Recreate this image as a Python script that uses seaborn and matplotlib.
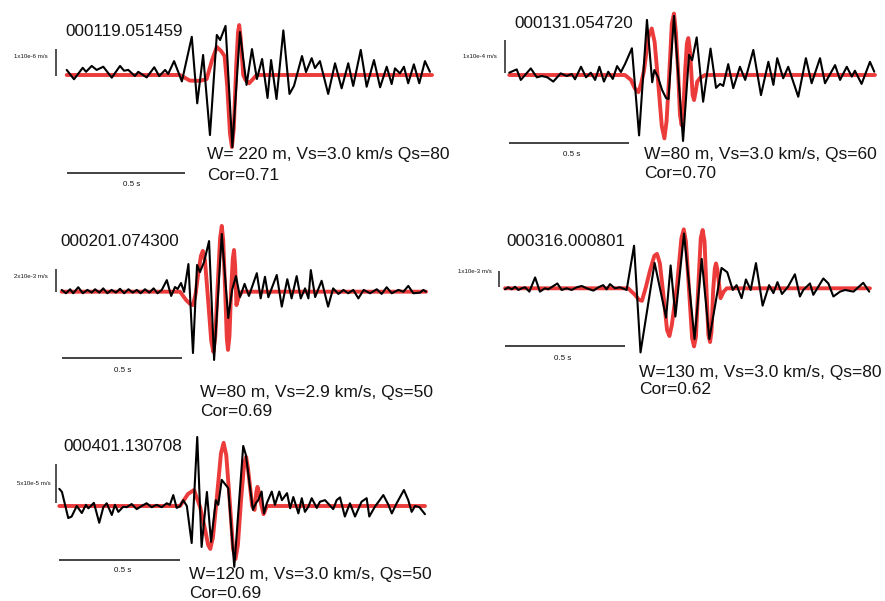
import matplotlib
matplotlib.use("Agg")
import matplotlib.pyplot as plt
import numpy as np
import pandas as pd
import seaborn as sns

# ---------------- data (time in s, amplitude in units of each panel's scale bar) -------------
event_ids = ["000119.051459", "000131.054720", "000201.074300", "000316.000801", "000401.130708"]
fit_params = ["W= 220 m, Vs=3.0 km/s Qs=80", "W=80 m, Vs=3.0 km/s, Qs=60",
              "W=80 m, Vs=2.9 km/s, Qs=50", "W=130 m, Vs=3.0 km/s, Qs=80",
              "W=120 m, Vs=3.0 km/s, Qs=50"]
correlations = ["Cor=0.71", "Cor=0.70", "Cor=0.69", "Cor=0.62", "Cor=0.69"]
amp_scale_labels = ["1x10e-6 m/s", "1x10e-4 m/s", "2x10e-3 m/s", "1x10e-3 m/s", "5x10e-5 m/s"]
time_scale_label = "0.5 s"
time_scale_len = 0.5

obs_1 = [(0.000, 0.19), (0.031, -0.16), (0.068, 0.27), (0.082, 0.12), (0.106, 0.34), (0.127, 0.19),
         (0.155, 0.31), (0.191, -0.10), (0.226, 0.34), (0.243, 0.16), (0.261, 0.19), (0.289, -0.04),
         (0.303, 0.12), (0.339, -0.09), (0.371, 0.29), (0.392, -0.04), (0.417, 0.19), (0.430, 0.04),
         (0.455, 0.52), (0.488, -0.24), (0.530, 1.43), (0.553, -1.06), (0.578, 0.75), (0.607, -2.25),
         (0.636, 1.50), (0.650, 1.31), (0.673, 1.84), (0.702, -2.70), (0.734, 1.61), (0.762, -0.37),
         (0.785, 0.97), (0.806, -0.15), (0.828, 0.60), (0.851, -0.86), (0.866, 0.56), (0.889, -0.90),
         (0.918, 1.67), (0.944, -0.71), (0.963, -0.41), (0.997, 0.71), (1.014, 0.11), (1.038, 0.63),
         (1.052, 0.26), (1.073, 0.52), (1.108, -0.71), (1.137, 0.44), (1.165, -0.50), (1.193, 0.44),
         (1.214, -0.41), (1.246, 0.94), (1.271, -0.44), (1.302, 0.56), (1.328, -0.46), (1.356, 0.31),
         (1.377, -0.34), (1.391, 0.25), (1.412, 0.06), (1.429, 0.31), (1.447, -0.31), (1.471, 0.40),
         (1.494, -0.31), (1.518, 0.52), (1.539, 0.12)]
syn_1 = [(0.000, 0.0), (0.480, 0.0), (0.522, -0.21), (0.565, -0.22), (0.593, -0.15), (0.616, 0.56),
         (0.636, 1.05), (0.654, 0.90), (0.669, 0.71), (0.680, -0.40), (0.692, -2.20), (0.700, -2.70),
         (0.708, -2.00), (0.718, 0.30), (0.726, 1.60), (0.731, 1.87), (0.737, 1.40), (0.748, 0.00),
         (0.758, -0.19), (0.773, -0.31), (0.805, 0.0), (1.548, 0.0)]

obs_2 = [(0.000, 0.07), (0.031, 0.17), (0.048, -0.15), (0.090, 0.20), (0.115, -0.07), (0.136, -0.03),
         (0.159, -0.07), (0.184, -0.20), (0.215, 0.05), (0.240, -0.03), (0.261, 0.03), (0.275, -0.13),
         (0.300, 0.25), (0.321, -0.07), (0.341, 0.07), (0.359, -0.15), (0.377, 0.25), (0.396, -0.20),
         (0.414, 0.10), (0.433, -0.12), (0.451, 0.27), (0.467, 0.09), (0.484, 0.33), (0.513, 0.81),
         (0.543, -1.83), (0.576, 1.67), (0.598, -0.22), (0.607, 0.15), (0.622, -0.06), (0.639, -0.45),
         (0.656, -0.70), (0.666, -0.73), (0.689, 1.79), (0.727, -2.00), (0.752, 0.61), (0.765, 0.45),
         (0.784, 1.14), (0.811, -0.81), (0.842, 0.80), (0.865, -0.39), (0.882, -0.27), (0.895, -0.33),
         (0.916, 0.33), (0.937, -0.40), (0.965, 0.25), (0.987, -0.15), (1.021, 0.76), (1.053, -0.61),
         (1.084, 0.40), (1.105, -0.30), (1.121, 0.51), (1.146, -0.10), (1.167, 0.25), (1.209, -0.66),
         (1.241, 0.51), (1.265, -0.25), (1.300, 0.51), (1.321, -0.25), (1.363, 0.30), (1.384, -0.15),
         (1.412, 0.25), (1.433, -0.05), (1.446, 0.13), (1.474, -0.27), (1.509, 0.40), (1.527, 0.10)]
syn_2 = [(0.000, 0.0), (0.484, 0.0), (0.509, -0.15), (0.525, -0.40), (0.540, -0.52), (0.552, -0.25),
         (0.564, 0.15), (0.582, 1.15), (0.596, 1.41), (0.608, 1.00), (0.622, -0.15), (0.638, -1.55),
         (0.649, -1.92), (0.658, -1.40), (0.668, -0.15), (0.680, 1.55), (0.689, 1.86), (0.697, 1.30),
         (0.706, 0.15), (0.714, -1.20), (0.721, -1.52), (0.728, -1.10), (0.736, 0.15), (0.743, 0.95),
         (0.749, 1.12), (0.755, 0.80), (0.761, 0.15), (0.767, -0.60), (0.773, -0.76), (0.780, -0.50),
         (0.786, -0.21), (0.798, -0.09), (0.819, 0.0), (1.530, 0.0)]

obs_3 = [(0.000, 0.08), (0.018, -0.07), (0.035, 0.11), (0.048, -0.07), (0.069, 0.20), (0.088, -0.07),
         (0.107, 0.08), (0.125, -0.04), (0.139, 0.11), (0.157, -0.04), (0.173, 0.15), (0.190, -0.07),
         (0.208, 0.08), (0.226, -0.04), (0.243, 0.13), (0.260, -0.07), (0.278, 0.11), (0.296, -0.04),
         (0.313, 0.08), (0.329, -0.07), (0.347, 0.11), (0.365, -0.04), (0.383, 0.15), (0.399, -0.07),
         (0.417, 0.08), (0.438, 0.52), (0.456, -0.19), (0.472, 0.21), (0.483, 0.12), (0.497, 0.39),
         (0.510, -0.01), (0.528, 1.24), (0.547, -2.75), (0.564, 1.20), (0.576, 0.88), (0.593, 1.33),
         (0.614, 2.27), (0.635, -3.06), (0.667, 2.59), (0.694, -1.18), (0.710, 0.08), (0.726, 0.70),
         (0.743, -0.24), (0.762, 0.35), (0.780, -0.19), (0.813, 0.83), (0.829, -0.30), (0.847, 0.67),
         (0.861, -0.25), (0.896, 0.75), (0.917, -0.67), (0.940, 0.56), (0.958, -0.30), (0.979, 0.70),
         (0.996, -0.30), (1.014, 0.15), (1.028, -0.30), (1.038, 0.97), (1.056, -0.24), (1.083, 0.49),
         (1.110, -0.67), (1.131, 0.15), (1.153, -0.10), (1.174, 0.08), (1.194, -0.07), (1.215, 0.08),
         (1.236, -0.30), (1.258, 0.08), (1.285, -0.07), (1.313, 0.11), (1.333, -0.10), (1.354, 0.20),
         (1.375, -0.07), (1.403, 0.08), (1.424, 0.00), (1.444, 0.26), (1.465, -0.07), (1.493, -0.04),
         (1.507, 0.08), (1.518, 0.00)]
syn_3 = [(0.000, 0.0), (0.493, 0.0), (0.518, -0.37), (0.535, -0.55), (0.547, -0.60), (0.558, -0.10),
         (0.568, 0.74), (0.580, 1.60), (0.588, 1.83), (0.597, 1.40), (0.610, -0.37), (0.623, -2.20),
         (0.632, -2.70), (0.640, -2.00), (0.649, 0.08), (0.660, 2.40), (0.667, 2.95), (0.673, 2.30),
         (0.681, 0.08), (0.688, -2.10), (0.693, -2.61), (0.699, -2.00), (0.706, 0.08), (0.713, 1.50),
         (0.718, 1.87), (0.723, 1.10), (0.728, -0.60), (0.739, -0.19), (0.751, 0.0), (1.518, 0.0)]

obs_4 = [(0.000, -0.06), (0.014, 0.06), (0.028, -0.06), (0.042, 0.09), (0.056, -0.10), (0.070, 0.00),
         (0.084, 0.06), (0.102, -0.20), (0.126, 0.65), (0.146, -0.20), (0.167, 0.00), (0.181, -0.06),
         (0.219, 0.29), (0.237, -0.10), (0.258, 0.00), (0.279, -0.10), (0.300, 0.06), (0.321, 0.14),
         (0.342, 0.00), (0.370, -0.14), (0.391, 0.06), (0.411, 0.19), (0.425, -0.06), (0.439, 0.25),
         (0.460, 0.00), (0.481, 0.06), (0.509, -0.10), (0.540, 2.55), (0.567, -3.84), (0.626, 1.52),
         (0.674, -1.75), (0.693, 1.37), (0.713, -1.69), (0.749, 3.28), (0.793, -3.04), (0.823, 1.76),
         (0.855, -3.04), (0.906, 1.22), (0.930, 0.96), (0.953, -0.10), (0.969, 0.19), (0.990, -0.59),
         (1.008, 0.53), (1.028, -0.10), (1.050, 1.51), (1.078, -1.04), (1.105, 0.19), (1.123, -0.29),
         (1.140, 0.37), (1.159, -0.34), (1.184, 0.09), (1.213, 0.84), (1.234, -0.49), (1.248, -0.10),
         (1.276, 0.29), (1.290, -0.39), (1.332, 0.59), (1.353, 0.29), (1.374, -0.49), (1.402, -0.20),
         (1.423, -0.10), (1.458, -0.20), (1.499, 0.33), (1.524, -0.20)]
syn_4 = [(0.000, 0.0), (0.515, 0.0), (0.544, -0.39), (0.560, -0.68), (0.573, -0.75), (0.590, 0.10),
         (0.607, 1.08), (0.625, 1.95), (0.636, 2.06), (0.648, 1.50), (0.665, -0.69), (0.678, -2.50),
         (0.688, -2.86), (0.698, -2.20), (0.720, 0.19), (0.738, 3.00), (0.748, 3.53), (0.757, 2.80),
         (0.770, -0.10), (0.783, -3.00), (0.791, -3.48), (0.799, -2.90), (0.808, -0.10), (0.819, 3.00),
         (0.827, 3.49), (0.835, 2.80), (0.843, -0.10), (0.851, -2.80), (0.858, -3.22), (0.864, -2.60),
         (0.871, -0.10), (0.878, 1.20), (0.883, 1.49), (0.889, 1.10), (0.902, -0.59), (0.915, -0.20),
         (0.928, 0.0), (1.527, 0.0)]

obs_5 = [(0.000, 0.44), (0.011, 0.36), (0.037, -0.31), (0.051, -0.27), (0.072, 0.00), (0.093, -0.18),
         (0.110, 0.03), (0.120, -0.06), (0.143, 0.08), (0.165, -0.43), (0.182, -0.03), (0.196, 0.07),
         (0.217, -0.23), (0.230, 0.03), (0.244, -0.15), (0.264, -0.02), (0.279, -0.03), (0.299, 0.05),
         (0.320, -0.08), (0.340, 0.00), (0.361, 0.07), (0.382, -0.03), (0.402, 0.03), (0.423, -0.03),
         (0.444, 0.07), (0.457, 0.03), (0.471, 0.28), (0.485, -0.05), (0.499, 0.00), (0.512, 0.15),
         (0.527, 0.00), (0.547, -0.95), (0.570, 1.77), (0.588, -1.05), (0.610, 0.36), (0.627, -0.92),
         (0.647, 0.15), (0.657, 0.03), (0.671, 0.67), (0.698, 0.46), (0.723, -1.56), (0.760, 1.54),
         (0.771, 1.31), (0.800, -0.10), (0.813, 0.08), (0.822, 0.15), (0.836, 0.37), (0.846, -0.19),
         (0.858, 0.08), (0.878, 0.37), (0.891, 0.03), (0.909, 0.37), (0.920, 0.15), (0.941, 0.33),
         (0.954, -0.06), (0.967, 0.23), (0.988, -0.19), (1.002, 0.20), (1.015, -0.15), (1.029, -0.02),
         (1.043, 0.20), (1.064, -0.05), (1.077, 0.11), (1.098, 0.15), (1.132, -0.08), (1.146, 0.15),
         (1.160, 0.22), (1.180, -0.27), (1.201, 0.07), (1.222, -0.27), (1.249, 0.11), (1.270, 0.20),
         (1.281, -0.27), (1.304, -0.02), (1.339, 0.28), (1.360, 0.03), (1.374, -0.19), (1.394, 0.07),
         (1.424, 0.41), (1.442, 0.15), (1.456, -0.15), (1.470, 0.00), (1.488, -0.03), (1.497, -0.10),
         (1.511, -0.21)]
syn_5 = [(0.000, 0.0), (0.499, 0.0), (0.532, 0.31), (0.557, 0.41), (0.582, -0.03), (0.603, -0.62),
         (0.615, -1.00), (0.624, -1.10), (0.635, -0.80), (0.650, 0.15), (0.668, 1.35), (0.679, 1.62),
         (0.690, 1.30), (0.704, 0.15), (0.718, -1.10), (0.728, -1.36), (0.738, -1.00), (0.751, 0.15),
         (0.764, 1.10), (0.772, 1.26), (0.780, 0.95), (0.797, 0.0), (0.807, -0.10), (0.814, 0.35),
         (0.819, 0.49), (0.825, 0.35), (0.834, 0.05), (0.844, -0.21), (0.858, 0.0), (1.511, 0.0)]

observed = [obs_1, obs_2, obs_3, obs_4, obs_5]
synthetic = [syn_1, syn_2, syn_3, syn_4, syn_5]

# ---------------- layout (figure pixels) ----------------
W, H = 885, 601
layout = [
    dict(box=(0, 0, 442, 200), x0=66.7, pps=236, base=75.0, h=26.7,
         title=(65, 32), par=(207, 155), cor=(207, 175), tlab=(131.7, 185), alab=(31, 57),
         hbar_y=172.7, vbar_x=56, vbar_bot=76.0),
    dict(box=(442, 0, 443, 200), x0=509.3, pps=239, base=75.0, h=33.0,
         title=(514, 23), par=(644, 154), cor=(644, 173.3), tlab=(571.7, 155), alab=(480, 56.7),
         hbar_y=143.3, vbar_x=505, vbar_bot=73.3),
    dict(box=(0, 200, 442, 220), x0=61.7, pps=240, base=291.7, h=22.3,
         title=(60.7, 241.7), par=(200, 392.7), cor=(200, 411.7), tlab=(122.7, 370.7), alab=(31, 276),
         hbar_y=358.3, vbar_x=56, vbar_bot=291.7),
    dict(box=(442, 200, 443, 220), x0=505.0, pps=239, base=288.3, h=16.7,
         title=(506, 241.7), par=(639.3, 372.3), cor=(639.3, 390), tlab=(562.7, 358.3), alab=(474.5, 271.7),
         hbar_y=345.7, vbar_x=499, vbar_bot=287.3),
    dict(box=(0, 420, 442, 181), x0=59.3, pps=242, base=506.0, h=39.0,
         title=(63.3, 446.7), par=(189.3, 575), cor=(189.3, 593.5), tlab=(122.7, 570), alab=(34, 483.3),
         hbar_y=560.0, vbar_x=56, vbar_bot=502.7),
]

sns.set_theme(style="white")
plt.rcParams["font.family"] = ["Liberation Sans", "DejaVu Sans"]

fig = plt.figure(figsize=(W / 100, H / 100), dpi=100)
fig.patch.set_facecolor("white")

RED = "#ec3b3b"
TXT = "#141414"


def fx(x):
    return x / W


def fy(y):
    return 1 - y / H


for i, L in enumerate(layout):
    bx, by, bw, bh = L["box"]
    ax = fig.add_axes([bx / W, 1 - (by + bh) / H, bw / W, bh / H])
    ax.set_axis_off()
    ax.patch.set_alpha(0)
    tx = lambda xp, L=L: (xp - L["x0"]) / L["pps"]
    ay = lambda yp, L=L: (L["base"] - yp) / L["h"]
    ax.set_xlim(tx(bx), tx(bx + bw))
    ax.set_ylim(ay(by + bh), ay(by))

    syn = pd.DataFrame(synthetic[i], columns=["t", "a"])
    obs = pd.DataFrame(observed[i], columns=["t", "a"])
    sns.lineplot(data=syn, x="t", y="a", ax=ax, sort=False, estimator=None,
                 color=RED, linewidth=2.8, solid_joinstyle="round", solid_capstyle="round")
    sns.lineplot(data=obs, x="t", y="a", ax=ax, sort=False, estimator=None,
                 color="black", linewidth=1.5, solid_joinstyle="round")

    # time scale bar
    yb = ay(L["hbar_y"])
    ax.plot([0, time_scale_len], [yb, yb], color="#222222", lw=1.2, solid_capstyle="butt")
    # amplitude scale bar (1 unit)
    xv = tx(L["vbar_x"])
    vb0 = ay(L["vbar_bot"])
    ax.plot([xv, xv], [vb0, vb0 + 1.0], color="#222222", lw=1.1, solid_capstyle="butt")

    fig.text(fx(L["title"][0]), fy(L["title"][1]), event_ids[i], fontsize=12.3,
             ha="left", va="center", color=TXT)
    fig.text(fx(L["par"][0]), fy(L["par"][1]), fit_params[i], fontsize=12.5,
             ha="left", va="center", color=TXT)
    fig.text(fx(L["cor"][0]), fy(L["cor"][1]), correlations[i], fontsize=12.5,
             ha="left", va="center", color=TXT)
    fig.text(fx(L["tlab"][0]), fy(L["tlab"][1]), time_scale_label, fontsize=5.8,
             ha="center", va="center", color=TXT)
    fig.text(fx(L["alab"][0]), fy(L["alab"][1]), amp_scale_labels[i], fontsize=4.4,
             ha="center", va="center", color=TXT)

fig.savefig("out.png", dpi=100, facecolor="white")
